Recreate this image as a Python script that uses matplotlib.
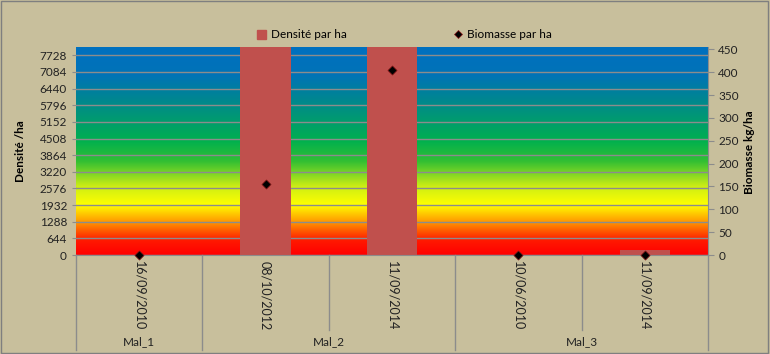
import numpy as np
import matplotlib
matplotlib.use('Agg')
import matplotlib.pyplot as plt
from matplotlib.colors import LinearSegmentedColormap
from matplotlib.patches import Rectangle
from matplotlib.lines import Line2D
import matplotlib.transforms as mtransforms

plt.rcParams['font.family'] = ['Lato', 'DejaVu Sans']

# data
groups = ['Mal_1', 'Mal_2', 'Mal_3']
group_sizes = [1, 2, 2]
dates = ['16/09/2010', '08/10/2012', '11/09/2014', '10/06/2010', '11/09/2014']
densite = [0, 12000, 15000, 0, 190]      # two Mal_2 bars run off the top
biomasse = [0, 155, 404, 0, 0]

dens_ticks = [0, 644, 1288, 1932, 2576, 3220, 3864, 4508, 5152, 5796, 6440, 7084, 7728]
bio_ticks = [0, 50, 100, 150, 200, 250, 300, 350, 400, 450]

bg = '#C8BF9C'
bar_col = '#C0504D'
grid_col = '#8C8C8C'

fig = plt.figure(figsize=(7.7, 3.54), dpi=100, facecolor=bg)
ax = fig.add_axes([76/770, 1-255/354, (708-76)/770, (255-47)/354])
ax.set_facecolor(bg)

n = len(dates)
x = np.arange(n)
ax.set_xlim(-0.5, n-0.5)
ax.set_ylim(0, 8050)

# gradient background (red at bottom -> blue at top)
stops = [(0.0, (1.0, 0.0, 0.0)), (0.07, (1.0, 0.1, 0.0)), (0.15, (1.0, 0.55, 0.0)),
         (0.24, (1.0, 1.0, 0.0)), (0.33, (0.8, 0.93, 0.08)), (0.45, (0.2, 0.75, 0.2)),
         (0.55, (0.0, 0.69, 0.31)), (0.66, (0.0, 0.6, 0.45)), (0.76, (0.0, 0.52, 0.58)),
         (0.87, (0.0, 0.45, 0.72)), (1.0, (0.0, 0.44, 0.75))]
cmap = LinearSegmentedColormap.from_list('grad', stops)
grad = np.linspace(0, 1, 256).reshape(-1, 1)
ax.imshow(grad, cmap=cmap, aspect='auto', origin='lower',
          extent=(-0.5, n-0.5, 0, 8050), zorder=0)

for t in dens_ticks:
    ax.axhline(t, color=grid_col, lw=1, zorder=1)

ax.bar(x, densite, width=0.4, color=bar_col, zorder=2)

ax.set_yticks(dens_ticks)
ax.tick_params(axis='y', labelsize=8.5, length=3, color=grid_col, labelcolor='#222222')
ax.set_xticks([])
for s in ['top', 'right', 'left']:
    ax.spines[s].set_visible(False)
ax.spines['bottom'].set_color(grid_col)

ax2 = ax.twinx()
ax2.set_ylim(0, 455)
ax2.set_yticks(bio_ticks)
ax2.tick_params(axis='y', labelsize=8.5, length=4, color=grid_col, labelcolor='#222222')
for s in ['top', 'left', 'bottom']:
    ax2.spines[s].set_visible(False)
ax2.spines['right'].set_color(grid_col)
ax2.scatter(x, biomasse, marker='D', s=22, color='black', edgecolors='#8B1A1A',
            linewidths=0.5, zorder=5, clip_on=False)

# multi-level category axis
tr = mtransforms.blended_transform_factory(ax.transData, ax.transAxes)
for i, d in enumerate(dates):
    ax.text(i, -0.03, d, transform=tr, rotation=-90, ha='center', va='top',
            fontsize=9, color='#222222')
edges = np.cumsum([0] + group_sizes) - 0.5
for e in edges:
    ax.add_line(Line2D([e, e], [0, -0.457], transform=tr, color=grid_col, lw=1, clip_on=False))
start = 0
for g, size in zip(groups, group_sizes):
    for k in range(1, size):
        e = start + k - 0.5
        ax.add_line(Line2D([e, e], [0, -0.36], transform=tr, color=grid_col, lw=1, clip_on=False))
    ax.text(start + (size-1)/2, -0.415, g, transform=tr, ha='center', va='center',
            fontsize=8.5, color='#222222')
    start += size

fig.text(0.027, 1-151/354, 'Densité /ha', rotation=90, ha='center', va='center',
         fontsize=8.5, fontweight='bold')
fig.text(0.973, 1-152/354, 'Biomasse kg/ha', rotation=90, ha='center', va='center',
         fontsize=8.5, fontweight='bold')

handles = [Rectangle((0, 0), 1, 1, color=bar_col),
           Line2D([], [], marker='D', ls='none', color='black', markersize=4.5,
                  markeredgecolor='#8B1A1A', markeredgewidth=0.5)]
fig.legend(handles, ['Densité par ha', 'Biomasse par ha'], loc='center',
           bbox_to_anchor=(0.525, 1-35/354), ncol=2, frameon=False, fontsize=8.5,
           handlelength=0.8, handleheight=0.8, handletextpad=0.4, columnspacing=9)

fig.add_artist(Rectangle((0.001, 0.002), 0.997, 0.995, transform=fig.transFigure,
                         fill=False, edgecolor='#7F7F7F', lw=1))

fig.savefig('out.png', dpi=100, facecolor=bg)
